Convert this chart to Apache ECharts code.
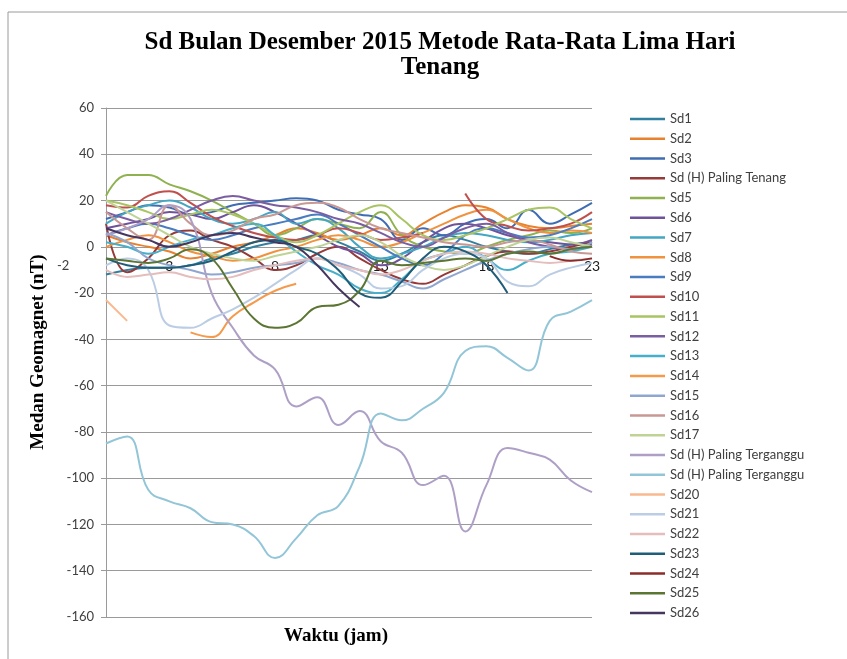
<!DOCTYPE html>
<html>
<head>
<meta charset="utf-8">
<script src="https://cdn.jsdelivr.net/npm/echarts@6/dist/echarts.min.js"></script>
<style>
html,body{margin:0;padding:0;background:#fff;}
#chart{width:847px;height:659px;}
</style>
</head>
<body>
<div id="chart"></div>
<script>
const hours = ['0','1','2','3','4','5','6','7','8','9','10','11','12','13','14','15','16','17','18','19','20','21','22','23'];
const yTicks = [-160,-140,-120,-100,-80,-60,-40,-20,0,20,40,60];
const titleText = 'Sd Bulan Desember 2015 Metode Rata-Rata Lima Hari\nTenang';
const yAxisTitle = 'Medan Geomagnet (nT)';
const xAxisTitle = 'Waktu (jam)';
const strayLabel = '-2';
const seriesNames = ['Sd1','Sd2','Sd3','Sd (H) Paling Tenang','Sd5','Sd6','Sd7','Sd8','Sd9','Sd10','Sd11','Sd12','Sd13','Sd14','Sd15','Sd16','Sd17','Sd (H) Paling Terganggu','Sd (H) Paling Terganggu ','Sd20','Sd21','Sd22','Sd23','Sd24','Sd25','Sd26'];
const seriesColors = ['#31809E','#E8822F','#3F6DB3','#953A38','#8FB14F','#6F529A','#43A6C2','#F0923E','#4A7CC0','#C0504D','#A9C462','#7B5EA2','#47AFC9','#F59A4C','#8FA7CF','#C99895','#BFD395','#AE9FC6','#93C5D8','#F8B98F','#BBCDE4','#E4BDBC','#1F5D78','#8A2C2A','#5B7532','#45365F'];

const sd1  = [-12,-10,-9,-9,-8,-5,-3,0,2,3,5,2,-2,-6,-3,2,5,3,0,-2,-3,-1,1,2];
const sd2  = [5,2,0,-2,-5,-3,0,2,5,8,6,3,5,8,5,10,15,18,17,12,9,8,9,10];
const sd3  = [12,15,18,17,14,15,18,19,20,21,20,16,14,12,3,8,5,10,12,8,16,10,14,19];
const sd4  = [10,-11,-5,5,7,3,0,-5,-10,-8,-3,0,-5,-10,-14,-16,-12,-8,-4,-2,-3,-2,0,2];
const sd5  = [22,31,31,27,24,20,15,10,5,8,12,10,8,15,5,0,-2,-3,0,3,5,7,6,8];
const sd6  = [8,10,12,15,14,12,15,18,15,10,5,0,-3,-8,-5,2,8,10,8,5,3,2,1,3];
const sd7  = [10,15,18,20,17,12,10,12,15,10,12,8,0,-5,-3,0,4,6,5,3,2,3,5,6];
const sd8  = [0,3,5,2,-2,-4,-6,-5,-2,0,3,5,3,0,2,6,10,14,16,12,8,6,7,6];
const sd9  = [5,8,10,8,5,3,5,8,10,12,14,10,5,0,-5,-8,-3,5,8,6,4,5,8,12];
const sd10 = [18,17,22,24,19,13,9,6,4,3,5,8,6,3,4,6,null,23,12,9,7,8,10,15];
const sd11 = [20,18,15,12,14,16,14,10,5,2,5,10,15,18,12,5,3,5,8,12,16,17,12,8];
const sd12 = [15,12,10,12,16,20,22,20,18,17,15,12,10,6,2,0,4,8,10,6,2,0,-1,1];
const sd13 = [2,0,-3,0,3,5,8,10,5,-2,-8,-12,-18,-20,-14,-6,-3,0,-5,-10,-6,-3,-2,0];
const sd14 = [null,null,null,null,-37,-39,-30,-24,-19,-16,null,null,null,null,null,null,null,null,null,null,null,null,null,null];
const sd15 = [6,2,-5,-8,-10,-12,-11,-9,-8,-7,-5,-7,-10,-12,-15,-18,-14,-10,-6,-3,-1,0,-1,2];
const sd16 = [15,8,3,18,10,5,7,12,14,18,19,17,12,8,6,4,2,1,0,2,3,1,-2,-3];
const sd17 = [20,15,10,5,0,-3,-5,-6,-4,-2,0,3,5,2,-4,-8,-10,-8,-4,0,3,4,2,0];
const sd18 = [5,8,12,18,12,-20,-35,-47,-53,-69,-65,-77,-71,-84,-89,-103,-99,-123,-103,-87,-89,-92,-101,-106];
const sd19 = [-85,-82,-105,-110,-113,-119,-120,-125,-134.5,-126,-116,-112,-95,-72,-75,-70,-63,-45,-43,-48,-53.5,-32,-28,-23];
const sd20 = [-23,-32,null,null,null,null,null,null,null,null,null,null,null,null,null,null,null,null,null,null,null,null,null,null];
const sd21 = [-8,-5,-10,-34,-35,-31,-27,-22,-16,-10,-5,-8,-12,-18,-17,-10,-5,-3,-5,-15,-17,-12,-9,-7];
const sd22 = [-10,-13,-12,-11,-13,-14,-13,-10,-8,-6,-5,-8,-10,-12,-10,-6,-3,-2,-3,-5,-6,-7,-6,-5];
const sd23 = [-5,-8,-9,-9,-8,-6,-2,2,3,0,-3,-10,-20,-22,-15,-5,0,-2,-8,-20,null,null,null,null];
const sd24 = [null,null,null,null,null,null,null,null,null,null,null,null,null,null,null,null,null,null,null,null,null,-4,-6,-5];
const sd25 = [-5,-6,-7,-5,-1,-5,-18,-31,-35,-33,-26,-25,-19,-6,-8,-7,-6,-5,-6,-3,-2,-3,-1,0];
const sd26 = [8,5,3,0,2,5,6,4,2,0,-8,-18,-26,null,null,null,null,null,null,null,null,null,null,null];

const allData = [sd1,sd2,sd3,sd4,sd5,sd6,sd7,sd8,sd9,sd10,sd11,sd12,sd13,sd14,sd15,sd16,sd17,sd18,sd19,sd20,sd21,sd22,sd23,sd24,sd25,sd26];

const chart = echarts.init(document.getElementById('chart'), null, {renderer:'canvas'});
const series = allData.map((d,i)=>({
  name: seriesNames[i],
  type: 'line',
  data: d,
  smooth: 0.45,
  symbol: 'none',
  connectNulls: false,
  lineStyle: {width: 2, color: seriesColors[i]},
  itemStyle: {color: seriesColors[i]},
  z: 2 + i
}));

// grid geometry
const gTop = 108, gBottom = 42, H = 659;
const plotH = H - gTop - gBottom;
const zeroOffset = plotH * (0 - yTicks[0]) / (yTicks[yTicks.length-1] - yTicks[0]);

chart.setOption({
  animation: false,
  backgroundColor: '#ffffff',
  title: {
    text: titleText,
    left: 435,
    top: 25,
    textAlign: 'center',
    textStyle: {fontFamily: 'Liberation Serif', fontWeight: 'bold', fontSize: 25, lineHeight: 25, color: '#000'}
  },
  graphic: [
    {type:'rect', shape:{x:8, y:12, width:900, height:700}, style:{fill:'none', stroke:'#9a9a9a', lineWidth:1}, silent:true, z:-10},
    {type:'text', left: 57, top: 259, style:{text: strayLabel, font:'13px Lato', fill:'#404040'}},
    {type:'text', x: 336, y: 636, style:{text: xAxisTitle, font:'bold 19px "Liberation Serif"', fill:'#000', textAlign:'center', textVerticalAlign:'middle'}},
    {type:'text', x: 38, y: 352, rotation: Math.PI/2, style:{text: yAxisTitle, font:'bold 19px "Liberation Serif"', fill:'#000', textAlign:'center', textVerticalAlign:'middle'}}
  ],
  legend: {
    orient: 'vertical',
    left: 625,
    top: 106,
    icon: 'rect',
    itemWidth: 35,
    itemHeight: 2.5,
    itemGap: 3.76,
    textStyle: {fontFamily: 'Lato', fontSize: 13, lineHeight: 16, color: '#404040'},
    data: seriesNames
  },
  grid: {left: 106, right: 255, top: gTop, bottom: gBottom},
  xAxis: {
    type: 'category',
    data: hours,
    boundaryGap: false,
    offset: -zeroOffset,
    axisLine: {onZero: false, lineStyle: {color: '#9a9a9a', width: 1}},
    axisTick: {show: false},
    axisLabel: {
      interval: function(idx){ return idx % 5 === 3; },
      margin: 13,
      fontFamily: 'Lato', fontSize: 14, color: '#1a1a1a'
    },
    splitLine: {show: false}
  },
  yAxis: {
    type: 'value',
    min: yTicks[0],
    max: yTicks[yTicks.length-1],
    interval: 20,
    axisLine: {show: true, lineStyle: {color: '#9a9a9a', width: 1}},
    axisTick: {show: true, length: 5, lineStyle: {color: '#9a9a9a'}},
    axisLabel: {margin: 12, fontFamily: 'Lato', fontSize: 13, color: '#404040'},
    splitLine: {show: true, lineStyle: {color: '#9a9a9a', width: 1}}
  },
  series: series
});
</script>
</body>
</html>
